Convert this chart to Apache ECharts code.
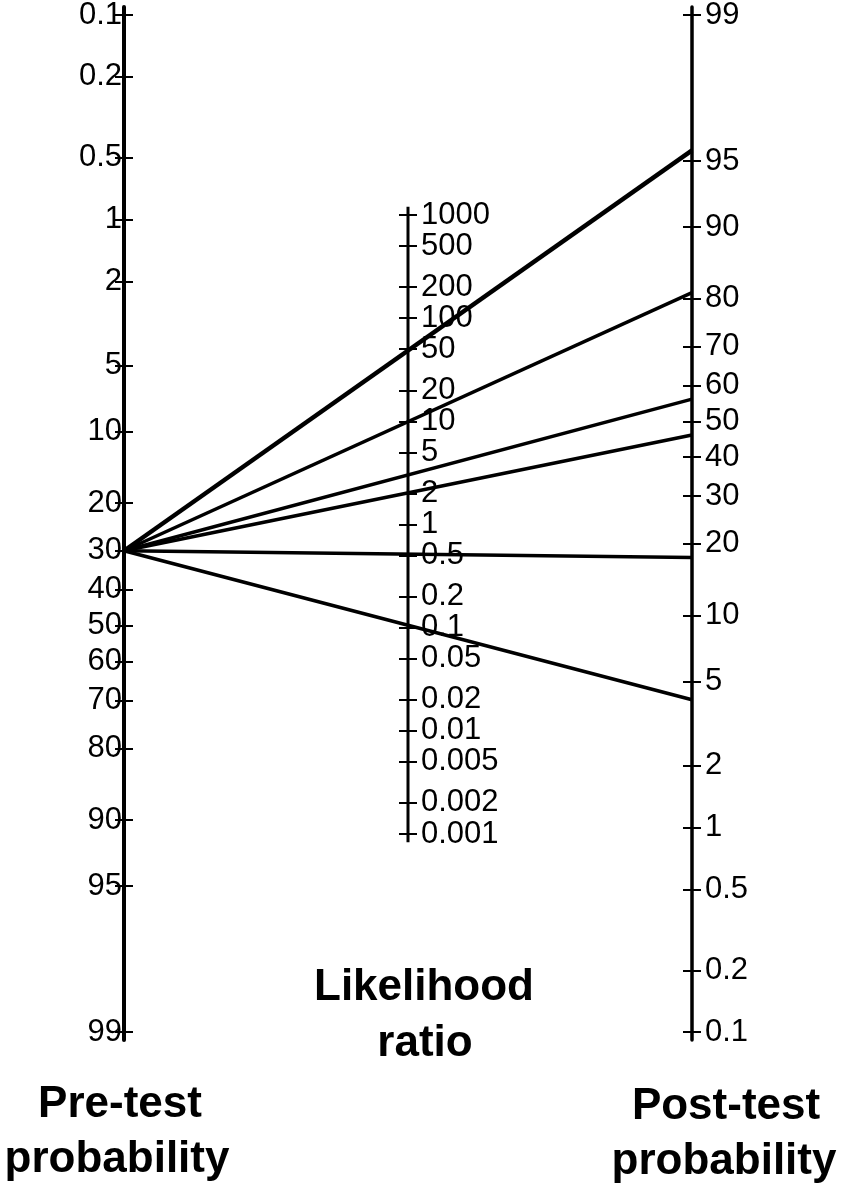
<!DOCTYPE html>
<html>
<head>
<meta charset="utf-8">
<style>
  html, body { margin: 0; padding: 0; background: #fff; }
  #chart { width: 842px; height: 1190px; }
</style>
<script src="https://cdn.jsdelivr.net/npm/echarts@6/dist/echarts.min.js"></script>
</head>
<body>
<div id="chart"></div>
<script>
// ---- data ----
const preTestTicks = [0.1, 0.2, 0.5, 1, 2, 5, 10, 20, 30, 40, 50, 60, 70, 80, 90, 95, 99];
const postTestTicks = [99, 95, 90, 80, 70, 60, 50, 40, 30, 20, 10, 5, 2, 1, 0.5, 0.2, 0.1];
const lrTicks = [1000, 500, 200, 100, 50, 20, 10, 5, 2, 1, 0.5, 0.2, 0.1, 0.05, 0.02, 0.01, 0.005, 0.002, 0.001];
const preTestProbability = 30;
const likelihoodRatios = [50, 10, 3, 2, 0.5, 0.1];
const lrAxisEnds = [1000, 0.001];

// ---- scale helpers ----
const logit = p => Math.log(p / (100 - p));
const probLabel = v => String(+(100 / (1 + Math.exp(-v))).toPrecision(3));
const lrLabel = v => String(+Math.pow(10, v).toPrecision(3));

// probability axes: logit scale, same extent on both sides (left inverted, right upright)
const padP = 0.0905;
const pMin = logit(0.1) - padP;
const pMax = logit(99) + padP;
// likelihood-ratio axis: log10 scale
const lrMin = -4.997, lrMax = 5.016, lrLinePad = 0.08;

const gridLeft = 124, gridRight = 150;
const gridWidth = 842 - gridLeft - gridRight;
const midFrac = 0.5;

const FONT = '"Liberation Sans", Arial, Helvetica, sans-serif';
const labelStyle = { color: '#000', fontSize: 31, fontFamily: FONT, hideOverlap: false };

function probAxis(position, inverse, ticks, withLabels, tickInside, margin) {
  const vals = ticks.map(logit);
  return {
    type: 'value', position: position, inverse: inverse, min: pMin, max: pMax,
    axisLine: { show: withLabels, onZero: false, lineStyle: { color: '#000', width: position === 'left' ? 4 : 3.5 } },
    axisTick: { show: true, inside: tickInside, length: 9, customValues: vals, lineStyle: { color: '#000', width: 2 } },
    axisLabel: Object.assign({ show: withLabels, customValues: vals, margin: margin, formatter: v => probLabel(v) }, labelStyle),
    splitLine: { show: false }
  };
}
function lrAxis(withLabels, tickInside) {
  const vals = lrTicks.map(v => Math.log10(v));
  return {
    type: 'value', position: 'right', offset: -gridWidth * (1 - midFrac), min: lrMin, max: lrMax,
    axisLine: { show: false, onZero: false },
    axisTick: { show: true, inside: tickInside, length: 9, customValues: vals, lineStyle: { color: '#000', width: 2 } },
    axisLabel: Object.assign({ show: withLabels, customValues: vals, margin: 13, formatter: v => lrLabel(v) }, labelStyle),
    splitLine: { show: false }
  };
}

const yAxes = [
  probAxis('left', true, preTestTicks, true, false, 2),
  probAxis('left', true, preTestTicks, false, true, 2),
  probAxis('right', false, postTestTicks, true, false, 13),
  probAxis('right', false, postTestTicks, false, true, 13),
  lrAxis(true, false),
  lrAxis(false, true)
];

const series = [];
// middle (likelihood ratio) axis line
series.push({
  type: 'line', xAxisIndex: 0, yAxisIndex: 4, symbol: 'none', silent: true,
  lineStyle: { color: '#000', width: 3 },
  data: [[midFrac, Math.log10(lrAxisEnds[0]) + lrLinePad], [midFrac, Math.log10(lrAxisEnds[1]) - lrLinePad]]
});
// nomogram lines: pre-test (left axis) -> post-test (right axis)
likelihoodRatios.forEach((lr, i) => {
  const lPre = logit(preTestProbability);
  const lPost = lPre + Math.log(lr);
  // right axis mirrors the left one, so its value lPost sits at left-axis value (pMin + pMax - lPost)
  series.push({
    type: 'line', xAxisIndex: 0, yAxisIndex: 0, symbol: 'none', silent: true,
    lineStyle: { color: '#000', width: i === 0 ? 4.5 : 3.5 },
    data: [[0, lPre], [1, pMin + pMax - lPost]]
  });
});

function title(text, x, y) {
  return {
    type: 'text', x: x, y: y, silent: true,
    style: {
      text: text, fill: '#000', fontSize: 44, fontWeight: 'bold', fontFamily: FONT,
      align: 'center', verticalAlign: 'middle', textAlign: 'center', textVerticalAlign: 'middle'
    }
  };
}

const chart = echarts.init(document.getElementById('chart'), null, { renderer: 'canvas' });
chart.setOption({
  backgroundColor: '#fff',
  animation: false,
  grid: { left: gridLeft, right: gridRight, top: 7, bottom: 150, containLabel: false, outerBoundsMode: 'none' },
  xAxis: { type: 'value', min: 0, max: 1, show: false },
  yAxis: yAxes,
  series: series,
  graphic: [
    title('Likelihood', 424, 988),
    title('ratio', 425, 1044),
    title('Pre-test', 120, 1105),
    title('probability', 117, 1160),
    title('Post-test', 726, 1107),
    title('probability', 724, 1162)
  ]
});
</script>
</body>
</html>
